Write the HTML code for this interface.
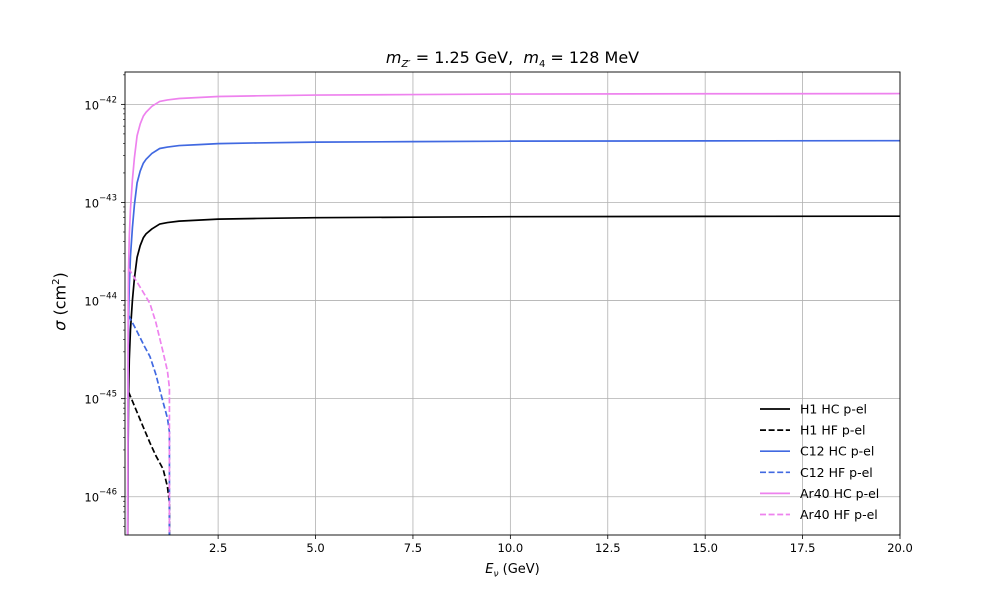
<!DOCTYPE html>
<html><head><meta charset="utf-8"><style>
body{margin:0;background:#fff}
svg{font-family:"DejaVu Sans","Liberation Sans",sans-serif}
</style></head><body>
<svg id="c" width="1000" height="600" xmlns="http://www.w3.org/2000/svg"></svg>
<script>
const xTicks=[2.5,5.0,7.5,10.0,12.5,15.0,17.5,20.0];
const xTickLabels=["2.5","5.0","7.5","10.0","12.5","15.0","17.5","20.0"];
const yDecades=[-46,-45,-44,-43,-42];
const seriesNames=["H1 HC p-el","H1 HF p-el","C12 HC p-el","C12 HF p-el","Ar40 HC p-el","Ar40 HF p-el"];
const hcE=[0.175,0.19,0.2,0.22,0.25,0.3,0.35,0.42,0.5,0.58,0.65,0.8,1.0,1.2,1.5,2.0,2.5,3.5,5,7.5,10,15,20];
const h1hc=[-47,-45.5,-45,-44.6,-44.3,-44.0,-43.78,-43.56,-43.44,-43.36,-43.32,-43.27,-43.22,-43.205,-43.19,-43.18,-43.17,-43.163,-43.155,-43.15,-43.145,-43.142,-43.14];
const c12hc=[-47,-44.7,-44.2,-43.85,-43.55,-43.26,-43.03,-42.8,-42.68,-42.6,-42.56,-42.5,-42.45,-42.435,-42.42,-42.41,-42.4,-42.393,-42.385,-42.38,-42.375,-42.372,-42.37];
const ar40hc=[-47,-44.2,-43.7,-43.35,-43.07,-42.77,-42.55,-42.32,-42.2,-42.12,-42.08,-42.02,-41.97,-41.955,-41.94,-41.93,-41.92,-41.913,-41.905,-41.9,-41.895,-41.892,-41.89];
const hfE=[0.2,0.4,0.6,0.75,0.9,1.09,1.2,1.25,1.25];
const h1hf=[-44.93,-45.12,-45.31,-45.45,-45.58,-45.72,-45.9,-46.06,-47];
const c12hf=[-44.15,-44.3,-44.46,-44.57,-44.75,-45.04,-45.2,-45.34,-47];
const ar40hf=[-43.67,-43.8,-43.93,-44.03,-44.22,-44.53,-44.72,-44.89,-47];
const L=125,R=900,T=72,B=535,xmin=0.11,xmax=20,ymin=-46.39,ymax=-41.67;
const X=v=>L+(v-xmin)/(xmax-xmin)*(R-L);
const Y=v=>B-(v-ymin)/(ymax-ymin)*(B-T);
const svg=document.getElementById('c');const NS='http://www.w3.org/2000/svg';
function mk(t,a,p){const e=document.createElementNS(NS,t);for(const k in a)e.setAttribute(k,a[k]);(p||svg).appendChild(e);return e;}
const clip=mk('clipPath',{id:'pc'});mk('rect',{x:L,y:T,width:R-L,height:B-T},clip);
const grid=mk('g',{});
xTicks.forEach((t,i)=>{const x=X(t);mk('line',{x1:x,x2:x,y1:T,y2:B,stroke:'#b0b0b0','stroke-width':0.8},grid);
 mk('line',{x1:x,x2:x,y1:B,y2:B+4,stroke:'#000','stroke-width':0.8});
 const tx=mk('text',{x:x,y:B+17,'font-size':11.5,'text-anchor':'middle'});tx.textContent=xTickLabels[i];
 });
yDecades.forEach(d=>{const y=Y(d);mk('line',{x1:L,x2:R,y1:y,y2:y,stroke:'#b0b0b0','stroke-width':0.8},grid);
 mk('line',{x1:L-4,x2:L,y1:y,y2:y,stroke:'#000','stroke-width':0.8});
 const tx=mk('text',{x:L-8,y:y+5,'font-size':11.5,'text-anchor':'end'});
 
 tx.innerHTML='10<tspan dy="-7" font-size="8.5">−'+(-d)+'</tspan>';});
for(let d=-47;d<=-42;d++)for(let m=2;m<=9;m++){const v=d+Math.log10(m);if(v>ymin&&v<ymax){const y=Y(v);mk('line',{x1:L-2,x2:L,y1:y,y2:y,stroke:'#000','stroke-width':0.6});}}
const colors=['#000','#000','#4169e1','#4169e1','#ee82ee','#ee82ee'];
const data=[[hcE,h1hc],[hfE,h1hf],[hcE,c12hc],[hfE,c12hf],[hcE,ar40hc],[hfE,ar40hf]];
const g=mk('g',{'clip-path':'url(#pc)'});
data.forEach((s,i)=>{const p=mk('polyline',{points:s[0].map((e,j)=>X(e)+','+Y(s[1][j])).join(' '),fill:'none',stroke:colors[i],'stroke-width':1.7,'stroke-linejoin':'round','stroke-dasharray':i%2?'6,2.6':'none'},g);
 });
const fr=mk('rect',{x:L,y:T,width:R-L,height:B-T,fill:'none',stroke:'#000','stroke-width':0.9});

const lg=mk('g',{});
seriesNames.forEach((n,i)=>{const y=409+i*21.1;
 mk('line',{x1:760,x2:790,y1:y,y2:y,stroke:colors[i],'stroke-width':1.7,'stroke-dasharray':i%2?'6,2.6':'none'},lg);
 const t=mk('text',{x:800,y:y+4.5,'font-size':12.5},lg);t.textContent=n;
 });
</script>
<div style="position:absolute;left:0;top:0;width:1000px;height:600px;pointer-events:none;font-family:'DejaVu Sans','Liberation Sans',sans-serif">
<div style="position:absolute;top:48px;left:0;width:1025px;text-align:center;font-size:16px"><i>m</i><sub style="font-size:10px"><i>Z′</i></sub> = 1.25 GeV,&nbsp; <i>m</i><sub style="font-size:10px">4</sub> = 128 MeV</div>
<div style="position:absolute;top:562px;left:0;width:1025px;text-align:center;font-size:13px"><i>E</i><sub style="font-size:9px"><i>ν</i></sub> (GeV)</div>
<div style="position:absolute;left:-40px;top:292px;width:200px;text-align:center;font-size:16px;transform:rotate(-90deg)"><i>σ</i> (cm<sup style="font-size:10px">2</sup>)</div>
</div>
</body></html>
